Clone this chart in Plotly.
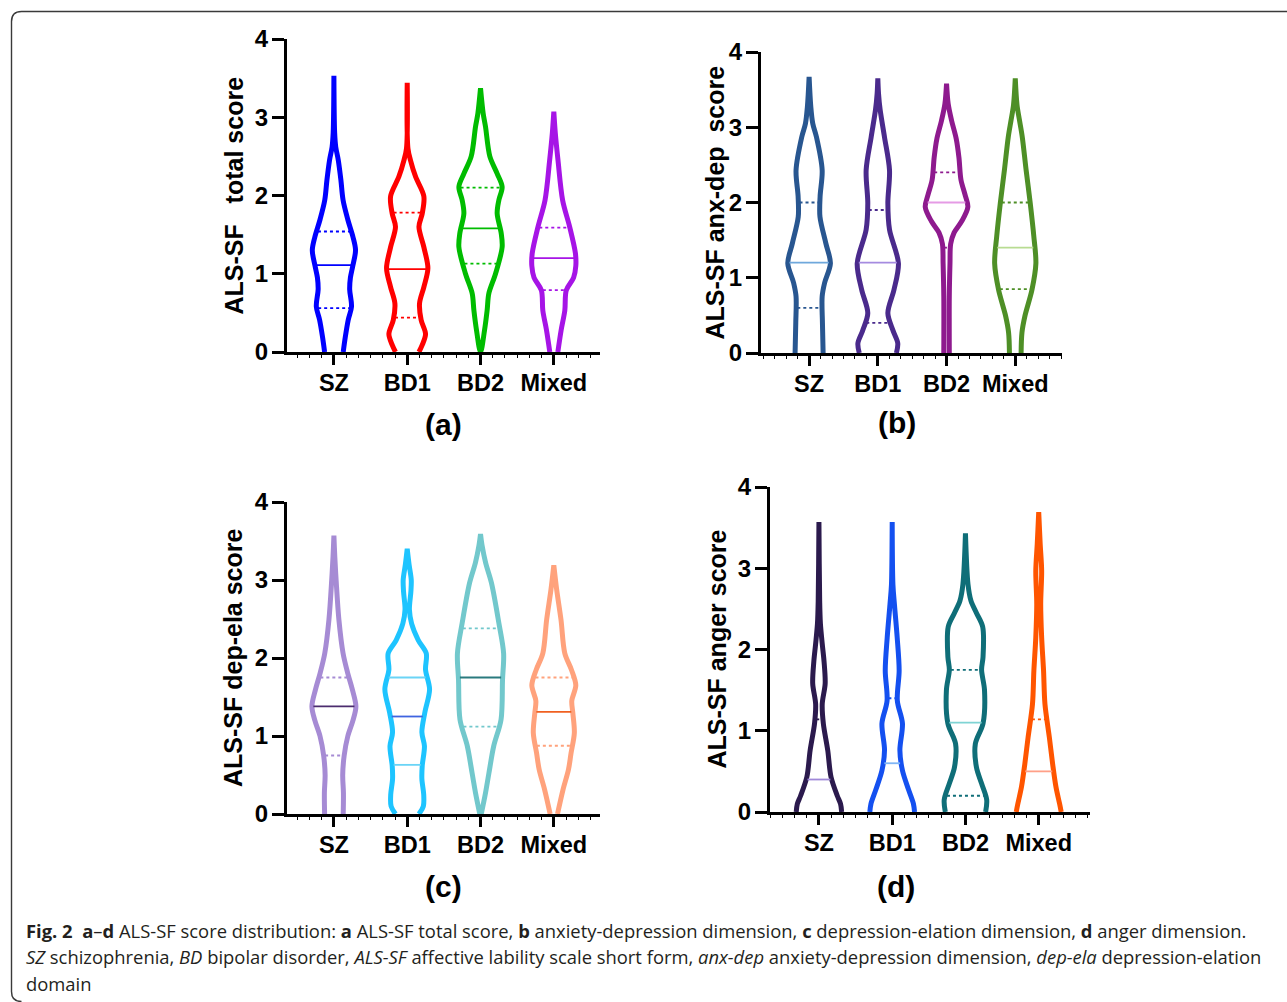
import numpy as np
import plotly.graph_objects as go

W, H = 1287, 1002

CATEGORIES = ["SZ", "BD1", "BD2", "Mixed"]
Y_TICKS = [0, 1, 2, 3, 4]

# ---- violin outlines: (score level, half-width in category units) ----
A_PROFILE = {
    "SZ": [(0, 0.127), (0.19, 0.155), (0.41, 0.195), (0.58, 0.24), (0.80, 0.215), (0.95, 0.225),
           (1.09, 0.255), (1.30, 0.295), (1.47, 0.26), (1.69, 0.19), (1.94, 0.125), (2.2, 0.095),
           (2.45, 0.06), (2.62, 0.025), (2.8, 0.01), (3.53, 0)],
    "BD1": [(0, 0.16), (0.09, 0.205), (0.23, 0.25), (0.41, 0.19), (0.62, 0.168), (0.83, 0.227),
            (1.07, 0.282), (1.34, 0.227), (1.60, 0.16), (1.77, 0.205), (1.99, 0.227), (2.24, 0.114),
            (2.45, 0.045), (2.6, 0.01), (3.44, 0)],
    "BD2": [(0, 0), (0.28, 0.055), (0.53, 0.09), (0.75, 0.114), (1.0, 0.205), (1.34, 0.295),
            (1.52, 0.282), (1.77, 0.227), (1.94, 0.25), (2.11, 0.295), (2.28, 0.227), (2.50, 0.127),
            (2.88, 0.068), (3.05, 0.036), (3.37, 0)],
    "Mixed": [(0, 0.055), (0.28, 0.10), (0.53, 0.15), (0.79, 0.17), (0.95, 0.27), (1.1, 0.30),
              (1.26, 0.295), (1.6, 0.216), (1.94, 0.12), (2.45, 0.057), (2.8, 0.02), (3.07, 0)],
}
B_PROFILE = {
    "SZ": [(0, 0.204), (0.40, 0.194), (0.75, 0.19), (0.93, 0.225), (1.19, 0.31), (1.46, 0.243),
           (1.81, 0.158), (2.08, 0.16), (2.43, 0.19), (2.87, 0.107), (3.05, 0.053), (3.27, 0.025),
           (3.67, 0)],
    "BD1": [(0, 0.27), (0.13, 0.29), (0.30, 0.22), (0.53, 0.146), (0.84, 0.235), (1.19, 0.30),
            (1.64, 0.17), (1.99, 0.146), (2.43, 0.17), (2.87, 0.097), (3.23, 0.034), (3.45, 0.01),
            (3.65, 0)],
    "BD2": [(0, 0.04), (0.75, 0.04), (1.19, 0.05), (1.45, 0.06), (1.6, 0.11), (1.75, 0.22),
            (1.94, 0.31), (2.1, 0.27), (2.3, 0.21), (2.6, 0.18), (2.85, 0.14), (3.09, 0.073),
            (3.31, 0.024), (3.58, 0)],
    "Mixed": [(0, 0.085), (0.27, 0.097), (0.49, 0.14), (0.84, 0.243), (1.19, 0.30), (1.55, 0.27),
              (1.99, 0.218), (2.43, 0.158), (2.87, 0.102), (3.1, 0.06), (3.3, 0.025), (3.65, 0)],
}
C_PROFILE = {
    "SZ": [(0, 0.127), (0.27, 0.13), (0.5, 0.12), (0.75, 0.14), (1.0, 0.19), (1.2, 0.26),
           (1.38, 0.30), (1.6, 0.25), (1.8, 0.19), (2.06, 0.125), (2.49, 0.068), (3.0, 0.03),
           (3.3, 0.012), (3.57, 0)],
    "BD1": [(0, 0.16), (0.1, 0.22), (0.25, 0.225), (0.45, 0.2), (0.62, 0.205), (0.87, 0.235),
            (1.05, 0.2), (1.3, 0.24), (1.6, 0.305), (1.85, 0.25), (2.06, 0.26), (2.23, 0.15),
            (2.44, 0.06), (2.62, 0.03), (2.85, 0.05), (3.0, 0.055), (3.2, 0.025), (3.40, 0)],
    "BD2": [(0, 0.01), (0.27, 0.068), (0.52, 0.114), (0.87, 0.18), (1.21, 0.28), (1.72, 0.30),
            (2.06, 0.315), (2.45, 0.25), (2.96, 0.15), (3.22, 0.07), (3.45, 0.02), (3.59, 0)],
    "Mixed": [(0, 0.05), (0.31, 0.125), (0.57, 0.2), (0.78, 0.235), (1.04, 0.28), (1.29, 0.26),
              (1.45, 0.245), (1.65, 0.30), (1.85, 0.24), (2.06, 0.15), (2.49, 0.098), (2.87, 0.04),
              (3.19, 0)],
}
D_PROFILE = {
    "SZ": [(0, 0.31), (0.1, 0.295), (0.2, 0.25), (0.43, 0.165), (0.76, 0.12), (1.09, 0.06),
           (1.33, 0.045), (1.58, 0.085), (1.85, 0.07), (2.07, 0.045), (2.32, 0.02), (2.6, 0.01),
           (3.57, 0)],
    "BD1": [(0, 0.305), (0.1, 0.29), (0.27, 0.225), (0.51, 0.14), (0.76, 0.105), (1.09, 0.14),
            (1.37, 0.07), (1.74, 0.095), (2.15, 0.068), (2.56, 0.03), (2.8, 0.01), (3.57, 0)],
    "BD2": [(0, 0.275), (0.15, 0.29), (0.35, 0.22), (0.55, 0.15), (0.84, 0.135), (1.09, 0.24),
            (1.5, 0.26), (1.75, 0.22), (1.91, 0.24), (2.28, 0.235), (2.45, 0.15), (2.6, 0.075),
            (2.8, 0.035), (3.43, 0)],
    "Mixed": [(0, 0.307), (0.1, 0.285), (0.31, 0.235), (0.59, 0.19), (0.92, 0.145), (1.33, 0.085),
              (1.74, 0.066), (2.15, 0.04), (2.56, 0.027), (2.97, 0.04), (3.3, 0.02), (3.69, 0)],
}

# ---- medians and quartiles ----
A_MEDIAN = [1.11, 1.06, 1.58, 1.20]
A_Q1 = [0.56, 0.44, 1.13, 0.79]
A_Q3 = [1.54, 1.78, 2.10, 1.59]
B_MEDIAN = [1.2, 1.2, 2.0, 1.4]
B_Q1 = [0.6, 0.4, 1.4, 0.85]
B_Q3 = [2.0, 1.9, 2.4, 2.0]
C_MEDIAN = [1.38, 1.25, 1.75, 1.31]
C_Q1 = [0.75, 0.63, 1.12, 0.875]
C_Q3 = [1.75, 1.75, 2.38, 1.75]
D_MEDIAN = [0.4, 0.6, 1.1, 0.5]
D_Q1 = [0.0, 0.0, 0.2, 0.0]
D_Q3 = [1.14, 1.4, 1.75, 1.14]

Y_TITLES = ["ALS-SF\u00a0\u00a0\u00a0total score", "ALS-SF anx-dep\u00a0\u00a0score",
            "ALS-SF dep-ela score", "ALS-SF anger score"]
PANEL_LABELS = ["(a)", "(b)", "(c)", "(d)"]

# ---- styles ----
VIOLIN_COLORS = [
    ["#0000FF", "#FF0000", "#00BC00", "#A614E6"],
    ["#285690", "#4A2A8C", "#8E1A8E", "#4E8F26"],
    ["#A68BD4", "#1EC4FF", "#72C8CC", "#FFA27C"],
    ["#2B1A4D", "#1450F0", "#0F6E78", "#FF5500"],
]
MEDIAN_COLORS = [
    ["#0000FF", "#FF0000", "#00BC00", "#A614E6"],
    ["#6FA8DC", "#A58BE0", "#E59BE5", "#B8DC92"],
    ["#4B2C6E", "#3F64E0", "#2A7A7E", "#F06020"],
    ["#A088D8", "#7FB5F5", "#7FD4D4", "#FFA088"],
]
QUART_COLORS = [
    ["#0000FF", "#FF0000", "#00BC00", "#A614E6"],
    ["#285690", "#4A2A8C", "#8E1A8E", "#4E8F26"],
    ["#A68BD4", "#6AD4F6", "#72C8CC", "#FFA27C"],
    ["#2B1A4D", "#1450F0", "#0F6E78", "#FF5500"],
]
QUART_DASH = [["dot"] * 4, ["dot"] * 4, ["dot", "solid", "dot", "dot"], ["dot"] * 4]

PANELS = [
    dict(x0=287, x1=600, yb=352, yt=39, xr=[-0.64, 3.63], tx=233, lx=443, ly=425),
    dict(x0=761, x1=1062, yb=353, yt=52, xr=[-0.70, 3.68], tx=714, lx=897, ly=423),
    dict(x0=287, x1=600, yb=814, yt=502, xr=[-0.64, 3.63], tx=233, lx=443, ly=887),
    dict(x0=770, x1=1090, yb=812, yt=487, xr=[-0.668, 3.70], tx=716, lx=896, ly=887),
]

PROFILES = [A_PROFILE, B_PROFILE, C_PROFILE, D_PROFILE]
MEDIANS = [A_MEDIAN, B_MEDIAN, C_MEDIAN, D_MEDIAN]
Q1S = [A_Q1, B_Q1, C_Q1, D_Q1]
Q3S = [A_Q3, B_Q3, C_Q3, D_Q3]


def px(x):
    return x / W


def py(y):
    return 1 - y / H


fig = go.Figure()
layout = dict(width=W, height=H, margin=dict(l=0, r=0, t=0, b=0, autoexpand=False),
              paper_bgcolor="white", plot_bgcolor="white", showlegend=False)

FONT_B = "Liberation Sans, Arial, sans-serif"
annotations = []

for p, geo in enumerate(PANELS):
    xa = "x" if p == 0 else f"x{p + 1}"
    ya = "y" if p == 0 else f"y{p + 1}"
    xkey = "xaxis" if p == 0 else f"xaxis{p + 1}"
    ykey = "yaxis" if p == 0 else f"yaxis{p + 1}"
    layout[xkey] = dict(
        domain=[px(geo["x0"]), px(geo["x1"])], anchor=ya, range=geo["xr"],
        tickvals=list(range(len(CATEGORIES))), ticktext=CATEGORIES,
        showline=True, linewidth=3, linecolor="black", ticks="outside", ticklen=10,
        tickwidth=3, tickcolor="black", showgrid=False, zeroline=False,
        tickfont=dict(family=FONT_B, size=23.5, color="black", weight="bold"),
        ticklabelstandoff=-2, automargin=False,
        minor=dict(dtick=1 / 6, tick0=0, ticks="outside", ticklen=3, tickwidth=1,
                   tickcolor="black", showgrid=False),
        fixedrange=True,
    )
    layout[ykey] = dict(
        domain=[py(geo["yb"]), py(geo["yt"])], anchor=xa, range=[0, 4],
        tickvals=Y_TICKS, showline=True, linewidth=3, linecolor="black",
        ticks="outside", ticklen=12, tickwidth=3, tickcolor="black",
        showgrid=False, zeroline=False, automargin=False,
        tickfont=dict(family=FONT_B, size=24, color="black", weight="bold"),
        ticklabelstandoff=-1, fixedrange=True,
    )
    prof = PROFILES[p]
    for g, cat in enumerate(CATEGORIES):
        lev = np.array([t[0] for t in prof[cat]])
        hw = np.array([t[1] for t in prof[cat]])
        xs = np.concatenate([g - hw, (g + hw)[::-1]])
        ys = np.concatenate([lev, lev[::-1]])
        fig.add_trace(go.Scatter(
            x=xs, y=ys, xaxis=xa, yaxis=ya, mode="lines",
            line=dict(color=VIOLIN_COLORS[p][g], width=5, shape="spline", smoothing=0.9),
            cliponaxis=False, hoverinfo="skip"))
        for val, col, dash, wdt in [
            (MEDIANS[p][g], MEDIAN_COLORS[p][g], "solid", 1.8),
            (Q1S[p][g], QUART_COLORS[p][g], QUART_DASH[p][g], 1.8),
            (Q3S[p][g], QUART_COLORS[p][g], QUART_DASH[p][g], 1.8),
        ]:
            if val <= 0:
                continue
            half = float(np.interp(val, lev, hw)) - 0.02
            if half <= 0.005:
                continue
            fig.add_trace(go.Scatter(
                x=[g - half, g + half], y=[val, val], xaxis=xa, yaxis=ya, mode="lines",
                line=dict(color=col, width=wdt, dash=dash), hoverinfo="skip"))

    annotations.append(dict(
        x=px(geo["tx"]), y=py((geo["yb"] + geo["yt"]) / 2), xref="paper", yref="paper",
        text=f"<b>{Y_TITLES[p]}</b>", textangle=-90, showarrow=False,
        font=dict(family=FONT_B, size=25, color="black"), xanchor="center", yanchor="middle"))
    annotations.append(dict(
        x=px(geo["lx"]), y=py(geo["ly"] - 1), xref="paper", yref="paper",
        text=f"<b>{PANEL_LABELS[p]}</b>", showarrow=False,
        font=dict(family=FONT_B, size=30, color="black"), xanchor="center", yanchor="middle"))

CAPTION = [
    "<b>Fig. 2</b>\u00a0 <b>a</b>–<b>d</b> ALS-SF score distribution: <b>a</b> ALS-SF total score, "
    "<b>b</b> anxiety-depression dimension, <b>c</b> depression-elation dimension, <b>d</b> anger dimension.",
    "<i>SZ</i> schizophrenia, <i>BD</i> bipolar disorder, <i>ALS-SF</i> affective lability scale short form, "
    "<i>anx-dep</i> anxiety-depression dimension, <i>dep-ela</i> depression-elation",
    "domain",
]
for i, line in enumerate(CAPTION):
    annotations.append(dict(
        x=px(24), y=py(930 + 26.5 * i), xref="paper", yref="paper", text=line,
        showarrow=False, xanchor="left", yanchor="middle", align="left",
        font=dict(family="Open Sans, Noto Sans, sans-serif", size=18.4, color="#231F20")))

layout["annotations"] = annotations

frame = (f"M {px(21.5)},{py(1001.5)} Q {px(11.5)},{py(1001.5)} {px(11.5)},{py(991.5)} "
         f"L {px(11.5)},{py(21.5)} Q {px(11.5)},{py(11.5)} {px(21.5)},{py(11.5)} "
         f"L {px(1300)},{py(11.5)}")
layout["shapes"] = [dict(type="path", path=frame, xref="paper", yref="paper",
                         line=dict(color="#3A3A3A", width=1.4))]

fig.update_layout(**layout)
fig.write_html("out.html", config={"displayModeBar": False},
               post_script="document.body.style.margin='0';document.body.style.padding='0';"
                           "document.body.style.overflow='hidden';")
